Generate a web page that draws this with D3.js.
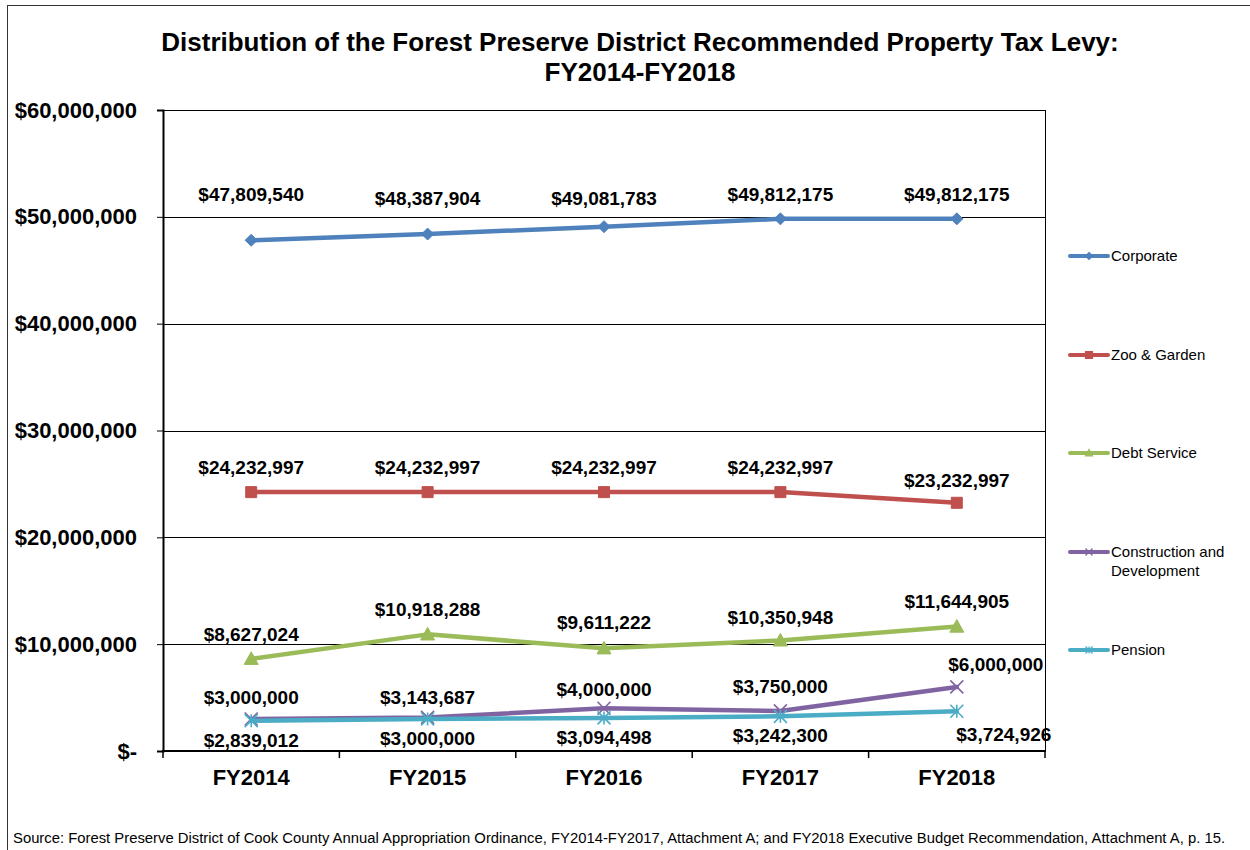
<!DOCTYPE html>
<html>
<head>
<meta charset="utf-8">
<script src="https://cdn.jsdelivr.net/npm/d3@7"></script>
<style>
  body { margin: 0; background: #fff; }
  svg { display: block; font-family: "Liberation Sans", Arial, sans-serif; }
</style>
</head>
<body>
<svg id="chart" width="1250" height="850"></svg>
<script>
// data
const years = ["FY2014", "FY2015", "FY2016", "FY2017", "FY2018"];
const corporate = [47809540, 48387904, 49081783, 49812175, 49812175];
const zooGarden = [24232997, 24232997, 24232997, 24232997, 23232997];
const debtService = [8627024, 10918288, 9611222, 10350948, 11644905];
const construction = [3000000, 3143687, 4000000, 3750000, 6000000];
const pension = [2839012, 3000000, 3094498, 3242300, 3724926];
const yTicks = [0, 10000000, 20000000, 30000000, 40000000, 50000000, 60000000];

const series = [
  { name: "Corporate", values: corporate, color: "#4F81BD", marker: "diamond" },
  { name: "Zoo & Garden", values: zooGarden, color: "#C0504D", marker: "square" },
  { name: "Debt Service", values: debtService, color: "#9BBB59", marker: "triangle" },
  { name: "Construction and Development", values: construction, color: "#8064A2", marker: "x" },
  { name: "Pension", values: pension, color: "#4BACC6", marker: "asterisk" },
];

// label placement tweaks (px), the way the original chart had them dragged around
const labelDy = {
  "Corporate": [-46, -36, -28, -25, -25],
  "Zoo & Garden": [-25, -25, -25, -25, -23],
  "Debt Service": [-25, -25, -26, -23, -25],
  "Construction and Development": [-22, -20, -19, -25, -23],
  "Pension": [19, 19, 19, 19, 23],
};
const labelDx = {
  "Construction and Development": [0, 0, 0, 0, 39],
  "Pension": [0, 0, 0, 0, 47],
};

const margin = { top: 110, right: 205, bottom: 99, left: 163 };
const width = 1250, height = 850;

const svg = d3.select("#chart");

// outer frame
svg.append("rect")
  .attr("x", 7.5).attr("y", 5.5)
  .attr("width", 1260).attr("height", 870)
  .attr("fill", "none").attr("stroke", "#333").attr("stroke-width", 1);

// title
const title = svg.append("text")
  .attr("text-anchor", "middle")
  .attr("font-weight", "bold")
  .attr("font-size", 26)
  .attr("fill", "#000");
title.append("tspan").attr("x", 640).attr("y", 51)
  .text("Distribution of the Forest Preserve District Recommended Property Tax Levy:");
title.append("tspan").attr("x", 640).attr("y", 81)
  .text("FY2014-FY2018");

const x = d3.scaleBand()
  .domain(years)
  .range([margin.left, width - margin.right]);

const y = d3.scaleLinear()
  .domain([0, 60000000])
  .range([height - margin.bottom, margin.top]);

const cx = (i) => x(years[i]) + x.bandwidth() / 2;

// gridlines
svg.append("g")
  .selectAll("line")
  .data(yTicks)
  .join("line")
  .attr("x1", margin.left).attr("x2", width - margin.right)
  .attr("y1", d => Math.round(y(d)) + 0.5).attr("y2", d => Math.round(y(d)) + 0.5)
  .attr("stroke", "#000").attr("stroke-width", 1);

// right border
svg.append("line")
  .attr("x1", width - margin.right + 0.5).attr("x2", width - margin.right + 0.5)
  .attr("y1", margin.top).attr("y2", height - margin.bottom)
  .attr("stroke", "#000");

// y axis
const yAxis = svg.append("g")
  .attr("transform", `translate(${margin.left},0)`)
  .call(d3.axisLeft(y)
    .tickValues(yTicks)
    .tickSize(6)
    .tickPadding(20)
    .tickFormat(d => d === 0 ? "$-" : "$" + d3.format(",")(d)));
yAxis.select(".domain").attr("stroke", "#000").attr("stroke-width", 2);
yAxis.selectAll(".tick line").attr("stroke", "#000");
yAxis.selectAll(".tick text")
  .attr("font-family", "Liberation Sans, Arial, sans-serif")
  .attr("font-size", 22).attr("font-weight", "bold").attr("fill", "#000");

// x axis (labels at centres, ticks on category edges)
const xAxis = svg.append("g")
  .attr("transform", `translate(0,${height - margin.bottom})`)
  .call(d3.axisBottom(x).tickSize(0).tickPadding(18));
xAxis.select(".domain").remove();
xAxis.selectAll(".tick text")
  .attr("font-family", "Liberation Sans, Arial, sans-serif")
  .attr("font-size", 22).attr("font-weight", "bold").attr("fill", "#000");

svg.append("line")
  .attr("x1", margin.left - 1).attr("x2", width - margin.right + 1)
  .attr("y1", height - margin.bottom).attr("y2", height - margin.bottom)
  .attr("stroke", "#000").attr("stroke-width", 2);

svg.append("g")
  .selectAll("line")
  .data(d3.range(years.length + 1))
  .join("line")
  .attr("x1", i => margin.left + i * x.step())
  .attr("x2", i => margin.left + i * x.step())
  .attr("y1", height - margin.bottom)
  .attr("y2", height - margin.bottom + 7)
  .attr("stroke", "#000").attr("stroke-width", 1.5);

// markers
function markerPath(type, s) {
  const h = s / 2;
  if (type === "diamond") return `M0,${-h}L${h},0L0,${h}L${-h},0Z`;
  if (type === "square") return `M${-h},${-h}H${h}V${h}H${-h}Z`;
  if (type === "triangle") return `M0,${-h}L${h},${h * 0.8}L${-h},${h * 0.8}Z`;
  if (type === "x") return `M${-h},${-h}L${h},${h}M${h},${-h}L${-h},${h}`;
  return `M${-h},${-h}L${h},${h}M${h},${-h}L${-h},${h}M0,${-h}V${h}`;
}
const markerSize = { diamond: 12, square: 11, triangle: 14, x: 13, asterisk: 13 };
const filled = (t) => t === "diamond" || t === "square" || t === "triangle";

const line = d3.line()
  .x((d, i) => cx(i))
  .y(d => y(d));

const seriesG = svg.append("g")
  .selectAll("g")
  .data(series)
  .join("g");

seriesG.append("path")
  .attr("d", d => line(d.values))
  .attr("fill", "none")
  .attr("stroke", d => d.color)
  .attr("stroke-width", 4.5)
  .attr("stroke-linejoin", "round")
  .attr("stroke-linecap", "round");

seriesG.selectAll(".pt")
  .data(d => d.values.map((v, i) => ({ v, i, s: d })))
  .join("path")
  .attr("class", "pt")
  .attr("transform", d => `translate(${cx(d.i)},${y(d.v)})`)
  .attr("d", d => markerPath(d.s.marker, markerSize[d.s.marker]))
  .attr("fill", d => filled(d.s.marker) ? d.s.color : "none")
  .attr("stroke", d => d.s.color)
  .attr("stroke-width", d => filled(d.s.marker) ? 1 : 1.6);

// data labels
svg.append("g")
  .selectAll("g")
  .data(series)
  .join("g")
  .selectAll("text")
  .data(d => d.values.map((v, i) => ({ v, i, s: d })))
  .join("text")
  .attr("x", d => cx(d.i) + ((labelDx[d.s.name] || [])[d.i] || 0))
  .attr("y", d => y(d.v) + labelDy[d.s.name][d.i])
  .attr("dy", "0.36em")
  .attr("text-anchor", "middle")
  .attr("font-size", 19)
  .attr("font-weight", "bold")
  .attr("fill", "#000")
  .text(d => "$" + d3.format(",")(d.v));

// legend
const legendY = [256, 355, 453, 552, 650];
const legend = svg.append("g")
  .selectAll("g")
  .data(series)
  .join("g")
  .attr("transform", (d, i) => `translate(1070,${legendY[i]})`);

legend.append("line")
  .attr("x1", 0).attr("x2", 38)
  .attr("stroke", d => d.color)
  .attr("stroke-width", 4)
  .attr("stroke-linecap", "round");

legend.append("path")
  .attr("transform", "translate(19,0)")
  .attr("d", d => markerPath(d.marker, 7))
  .attr("fill", d => filled(d.marker) ? d.color : "none")
  .attr("stroke", d => d.color)
  .attr("stroke-width", 1.2);

legend.append("text")
  .attr("x", 41)
  .attr("font-size", 15)
  .attr("fill", "#000")
  .each(function (d) {
    const words = d.name === "Construction and Development"
      ? ["Construction and", "Development"] : [d.name];
    d3.select(this).selectAll("tspan")
      .data(words)
      .join("tspan")
      .attr("x", 41)
      .attr("y", (w, j) => j * 18.5)
      .attr("dy", "0.35em")
      .text(w => w);
  });

// source note
svg.append("text")
  .attr("x", 13)
  .attr("y", 843)
  .attr("font-size", 14)
  .attr("fill", "#000")
  .attr("textLength", 1212)
  .attr("lengthAdjust", "spacingAndGlyphs")
  .text("Source: Forest Preserve District of Cook County Annual Appropriation Ordinance, FY2014-FY2017, Attachment A; and FY2018 Executive Budget Recommendation,  Attachment A, p. 15.");
</script>
</body>
</html>
